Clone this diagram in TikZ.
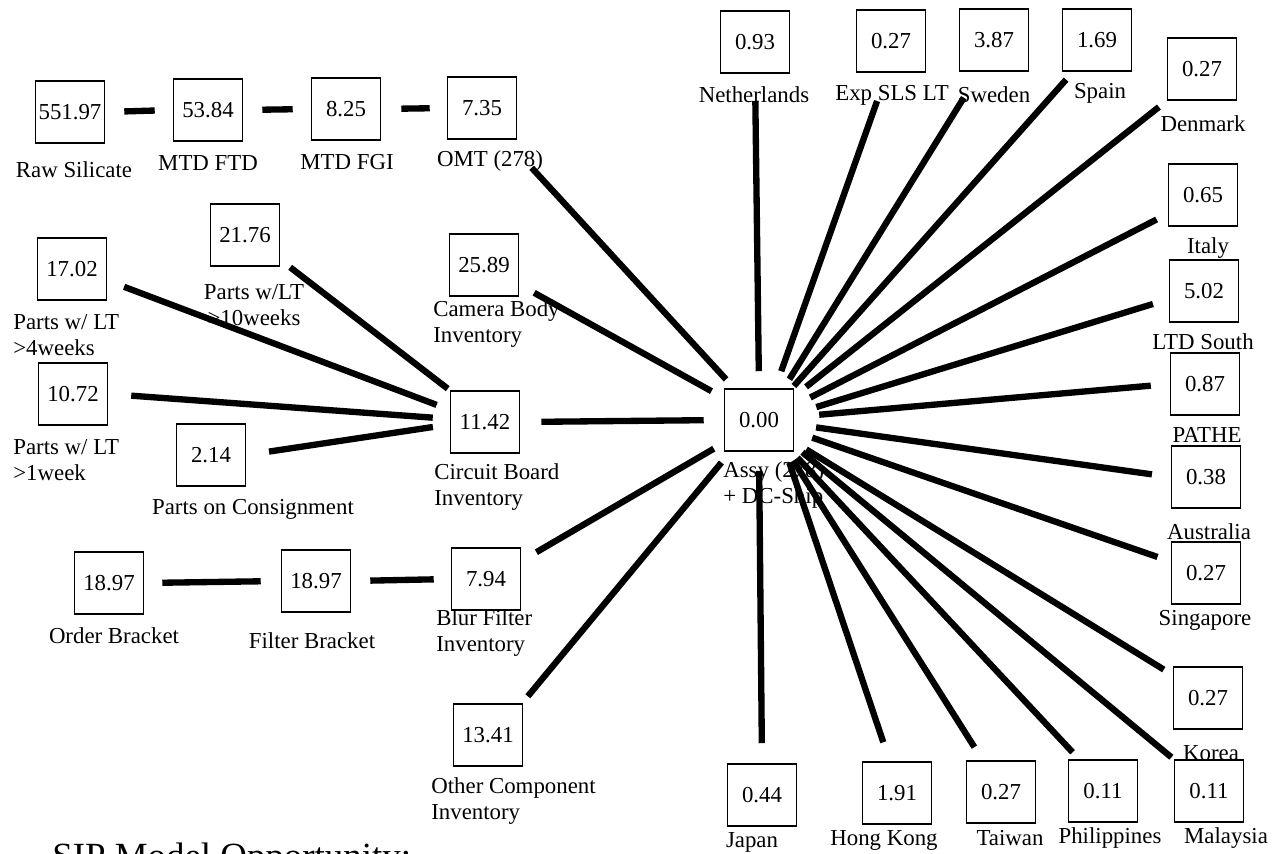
\documentclass[tikz,border=0pt]{standalone}
\usepackage{fontspec}
\setmainfont{Liberation Serif}
\begin{document}
\begin{tikzpicture}[x=0.02cm, y=-0.02cm,
		stock/.style={draw, line width=0.9pt, minimum width=1.38cm, minimum height=1.24cm, inner sep=0pt, font=\fontsize{13pt}{15pt}\selectfont},
		lbl/.style={inner sep=0pt, font=\fontsize{13pt}{15pt}\selectfont},
		link/.style={line width=3.6pt}]
			\useasboundingbox (0, 0) rectangle (1280, 854);
			\node[stock] (raw) at (70, 112) {551.97};
			\node[stock] (ftd) at (208, 110) {53.84};
			\node[stock] (fgi) at (346, 109) {8.25};
			\node[stock] (omt) at (482, 108) {7.35};
			\node[stock] (pten) at (245, 235) {21.76};
			\node[stock] (pfour) at (72, 269) {17.02};
			\node[stock] (pone) at (73, 394) {10.72};
			\node[stock] (cons) at (211, 455) {2.14};
			\node[stock] (cam) at (484, 265) {25.89};
			\node[stock] (cb) at (485, 422) {11.42};
			\node[stock] (ordb) at (109, 583) {18.97};
			\node[stock] (filb) at (316, 581) {18.97};
			\node[stock] (blur) at (486, 579) {7.94};
			\node[stock] (oth) at (488, 735) {13.41};
			\node[stock] (hub) at (759, 420) {0.00};
			\node[stock] (nl) at (755, 42) {0.93};
			\node[stock] (exp) at (891, 41) {0.27};
			\node[stock] (swe) at (994, 40) {3.87};
			\node[stock] (spa) at (1097, 40) {1.69};
			\node[stock] (den) at (1202, 69) {0.27};
			\node[stock] (ita) at (1203, 195) {0.65};
			\node[stock] (ltd) at (1204, 291) {5.02};
			\node[stock] (pat) at (1205, 384) {0.87};
			\node[stock] (aus) at (1206, 477) {0.38};
			\node[stock] (sin) at (1206, 573) {0.27};
			\node[stock] (kor) at (1208, 698) {0.27};
			\node[stock] (mal) at (1209, 791) {0.11};
			\node[stock] (phi) at (1103, 791) {0.11};
			\node[stock] (tai) at (1001, 792) {0.27};
			\node[stock] (hk) at (897, 793) {1.91};
			\node[stock] (jap) at (762, 795) {0.44};
			\node[lbl] (rawl) at (74, 170) {Raw Silicate};
			\node[lbl] (ftdl) at (208, 163) {MTD FTD};
			\node[lbl] (fgil) at (347, 162) {MTD FGI};
			\node[lbl] (omtl) at (490, 161) {OMT (278)};
			\node[lbl, align=center] (ptenl) at (254, 305) {Parts w/LT\\>10weeks};
			\node[lbl, align=left, anchor=west] (pfourl) at (13, 335) {Parts w/ LT\\>4weeks};
			\node[lbl, align=left, anchor=west] (pronel) at (13, 460) {Parts w/ LT\\>1week};
			\node[lbl, align=left, anchor=west] (caml) at (433, 324) {Camera Body\\Inventory};
			\node[lbl, align=left, anchor=west] (cbl) at (434, 487) {Circuit Board\\Inventory};
			\node[lbl] (consl) at (253, 509) {Parts on Consignment};
			\node[lbl] (ordbl) at (114, 636) {Order Bracket};
			\node[lbl] (filbl) at (312, 641) {Filter Bracket};
			\node[lbl, align=left, anchor=west] (blurl) at (436, 633) {Blur Filter\\Inventory};
			\node[lbl, align=left, anchor=west] (othl) at (431, 801) {Other Component\\Inventory};
			\node[lbl, align=left, anchor=west] (hubl) at (723, 485) {Assy (278)\\+ DC-Ship};
			\node[lbl] (nll) at (754, 95) {Netherlands};
			\node[lbl] (expl) at (892, 95) {Exp SLS LT};
			\node[lbl] (swel) at (994, 95) {Sweden};
			\node[lbl] (spal) at (1100, 93) {Spain};
			\node[lbl] (denl) at (1203, 124) {Denmark};
			\node[lbl] (ital) at (1208, 248) {Italy};
			\node[lbl] (ltdl) at (1203, 342) {LTD South};
			\node[lbl] (patl) at (1207, 435) {PATHE};
			\node[lbl] (ausl) at (1209, 532) {Australia};
			\node[lbl] (sinl) at (1205, 620) {Singapore};
			\node[lbl] (korl) at (1211, 753) {Korea};
			\node[lbl] (japl) at (752, 842) {Japan};
			\node[lbl] (hkl) at (884, 840) {Hong Kong};
			\node[lbl] (tail) at (1010, 838) {Taiwan};
			\node[lbl] (phil) at (1110, 838) {Philippines};
			\node[lbl] (mall) at (1226, 838) {Malaysia};
			\node[anchor=base west, inner sep=0pt, font=\fontsize{21pt}{24pt}\selectfont] (title) at (52, 868) {SIP Model Opportunity:};
			\begin{scope}[link]
				\draw[shorten <=0.38cm, shorten >=0.36cm] (raw.east) -- (ftd.west);
				\draw[shorten <=0.38cm, shorten >=0.36cm] (ftd.east) -- (fgi.west);
				\draw[shorten <=0.40cm, shorten >=0.34cm] (fgi.east) -- (omt.west);
				\draw[shorten <=0.36cm, shorten >=0.40cm] (ordb.east) -- (filb.west);
				\draw[shorten <=0.38cm, shorten >=0.34cm] (filb.east) -- (blur.west);
				\draw[shorten <=0.25cm, shorten >=0.05cm] (pten.-35) -- (cb.north west);
				\draw[shorten <=0.36cm, shorten >=0.28cm] (pfour.-18) -- (cb.161);
				\draw[shorten <=0.46cm, shorten >=0.34cm] (pone.east) -- (cb.175);
				\draw[shorten <=0.46cm, shorten >=0.34cm] (cons.east) -- (cb.184);
				\draw[shorten <=0.24cm, shorten >=0.76cm] (hub.128) -- (omt.307);
				\draw[shorten <=0.28cm, shorten >=0.34cm] (hub.148) -- (cam.-29);
				\draw[shorten <=0.40cm, shorten >=0.42cm] (hub.west) -- (cb.east);
				\draw[shorten <=0.23cm, shorten >=0.35cm] (hub.213) -- (blur.27);
				\draw[shorten <=0.28cm, shorten >=0.18cm] (hub.228) -- (oth.43);
				\draw[shorten <=0.34cm, shorten >=0.54cm] (hub.north) -- (nl.south);
				\draw[shorten <=0.36cm, shorten >=0.60cm] (hub.63) -- (exp.263);
				\draw[shorten <=0.21cm, shorten >=0.61cm] (hub.52) -- (swe.246);
				\draw[shorten <=0.06cm, shorten >=0.21cm] (hub.44) -- (spa.233);
				\draw[shorten <=0.30cm, shorten >=0.20cm] (hub.34) -- (den.south west);
				\draw[shorten <=0.36cm, shorten >=0.25cm] (hub.22) -- (ita.208);
				\draw[shorten <=0.46cm, shorten >=0.33cm] (hub.10) -- (ltd.193);
				\draw[shorten <=0.50cm, shorten >=0.38cm] (hub.5) -- (pat.west);
				\draw[shorten <=0.44cm, shorten >=0.38cm] (hub.-7) -- (aus.west);
				\draw[shorten <=0.38cm, shorten >=0.28cm] (hub.-18) -- (sin.162);
				\draw[shorten <=0.28cm, shorten >=0.21cm] (hub.-32) -- (kor.147);
				\draw[shorten <=0.21cm, shorten >=0.06cm] (hub.-36) -- (mal.north west);
				\draw[shorten <=0.16cm, shorten >=0.19cm] (hub.-44) -- (phi.127);
				\draw[shorten <=0.21cm, shorten >=0.31cm] (hub.-48) -- (tai.120);
				\draw[shorten <=0.23cm, shorten >=0.40cm] (hub.-50) -- (hk.103);
				\draw[shorten <=0.38cm, shorten >=0.40cm] (hub.south) -- (jap.north);
			\end{scope}
		\end{tikzpicture}
\end{document}
